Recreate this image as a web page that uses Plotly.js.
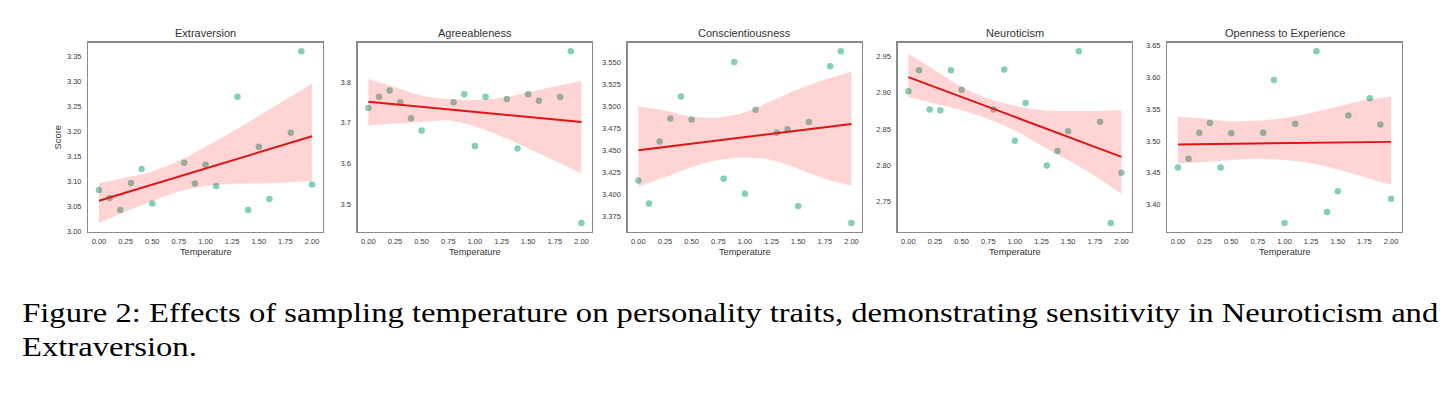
<!DOCTYPE html>
<html>
<head>
<meta charset="utf-8">
<script src="https://cdn.plot.ly/plotly-3.0.1.min.js"></script>
<style>
  html, body { margin: 0; padding: 0; background: #ffffff; }
  #chart { width: 1456px; height: 393px; }
</style>
</head>
<body>
<div id="chart"></div>
<script>
// ---------------- data ----------------
const traitNames = ["Extraversion", "Agreeableness", "Conscientiousness", "Neuroticism", "Openness to Experience"];
const temperature = [0, 0.1, 0.2, 0.3, 0.4, 0.5, 0.8, 0.9, 1.0, 1.1, 1.3, 1.4, 1.5, 1.6, 1.8, 1.9, 2.0];

const extraversion      = [3.083, 3.067, 3.043, 3.097, 3.125, 3.056, 3.137, 3.096, 3.133, 3.091, 3.269, 3.043, 3.169, 3.065, 3.197, 3.360, 3.094];
const agreeableness     = [3.736, 3.764, 3.779, 3.750, 3.711, 3.681, 3.750, 3.770, 3.643, 3.764, 3.758, 3.637, 3.770, 3.754, 3.763, 3.875, 3.455];
const conscientiousness = [3.416, 3.390, 3.460, 3.486, 3.511, 3.485, 3.418, 3.550, 3.401, 3.496, 3.470, 3.474, 3.387, 3.482, 3.545, 3.562, 3.368];
const neuroticism       = [2.902, 2.931, 2.877, 2.876, 2.931, 2.904, 2.877, 2.932, 2.834, 2.886, 2.800, 2.820, 2.847, 2.957, 2.860, 2.721, 2.790];
const openness          = [3.458, 3.472, 3.513, 3.528, 3.458, 3.512, 3.513, 3.596, 3.371, 3.527, 3.641, 3.388, 3.421, 3.540, 3.567, 3.526, 3.409];

// 95% confidence band of the regression line
const bandX = [0, 0.25, 0.5, 0.75, 1.0, 1.25, 1.5, 1.75, 2.0];
const extraversionUpper      = [3.097, 3.108, 3.120, 3.141, 3.169, 3.199, 3.231, 3.263, 3.295];
const extraversionLower      = [3.017, 3.040, 3.061, 3.080, 3.091, 3.095, 3.096, 3.098, 3.101];
const agreeablenessUpper     = [3.807, 3.787, 3.767, 3.758, 3.756, 3.761, 3.775, 3.789, 3.803];
const agreeablenessLower     = [3.693, 3.698, 3.702, 3.706, 3.691, 3.667, 3.637, 3.607, 3.576];
const conscientiousnessUpper = [3.500, 3.495, 3.488, 3.487, 3.493, 3.506, 3.519, 3.530, 3.539];
const conscientiousnessLower = [3.409, 3.420, 3.431, 3.439, 3.442, 3.439, 3.429, 3.418, 3.410];
const neuroticismUpper       = [2.954, 2.931, 2.908, 2.892, 2.882, 2.876, 2.875, 2.875, 2.876];
const neuroticismLower       = [2.894, 2.885, 2.876, 2.864, 2.848, 2.827, 2.807, 2.786, 2.761];
const opennessUpper          = [3.538, 3.535, 3.531, 3.532, 3.536, 3.544, 3.554, 3.564, 3.570];
const opennessLower          = [3.465, 3.467, 3.470, 3.472, 3.470, 3.465, 3.455, 3.443, 3.431];

const xTickVals = [0, 0.25, 0.5, 0.75, 1.0, 1.25, 1.5, 1.75, 2.0];
const xTickText = ["0.00", "0.25", "0.50", "0.75", "1.00", "1.25", "1.50", "1.75", "2.00"];
const yTickStep   = [0.05, 0.1, 0.025, 0.05, 0.05];
const yTickFormat = [".2f", ".1f", ".3f", ".2f", ".2f"];

const captionLine1 = "Figure 2: Effects of sampling temperature on personality traits, demonstrating sensitivity in Neuroticism and";
const captionLine2 = "Extraversion.";
const xTitle = "Temperature";
const yTitle = "Score";

const seriesList = [extraversion, agreeableness, conscientiousness, neuroticism, openness];
const upperList  = [extraversionUpper, agreeablenessUpper, conscientiousnessUpper, neuroticismUpper, opennessUpper];
const lowerList  = [extraversionLower, agreeablenessLower, conscientiousnessLower, neuroticismLower, opennessLower];

// ---------------- layout geometry ----------------
const W = 1456, H = 393;
const panelLeft  = [88.3, 357.7, 627.7, 897.7, 1167.3];
const panelWidth = 234.4;
const plotTop = 42.7, plotBottom = 231.5;
const captionLeft = 20, captionRight = 1437;

const pointColor = "rgba(102,194,165,0.8)";
const bandColor  = "rgba(255,0,0,0.17)";
const lineColor  = "#dd1515";
const textColor  = "#3a3a3a";
const frameColor = "#8a8a8a";
const sans = "Liberation Sans, Arial, sans-serif";
const serif = "Liberation Serif, Times New Roman, serif";

function olsFit(xs, ys) {
  const n = xs.length;
  const mx = xs.reduce((a, b) => a + b, 0) / n;
  const my = ys.reduce((a, b) => a + b, 0) / n;
  let sxy = 0, sxx = 0;
  for (let i = 0; i < n; i++) { sxy += (xs[i] - mx) * (ys[i] - my); sxx += (xs[i] - mx) ** 2; }
  const b = sxy / sxx;
  return { a: my - b * mx, b: b };
}

const traces = [];
const layout = {
  width: W, height: H,
  margin: { l: 0, r: 0, t: 0, b: 0 },
  paper_bgcolor: "#ffffff",
  plot_bgcolor: "#ffffff",
  showlegend: false,
  annotations: [],
  font: { family: sans, color: textColor }
};

const yDomain = [1 - plotBottom / H, 1 - plotTop / H];

for (let k = 0; k < 5; k++) {
  const suffix = k === 0 ? "" : String(k + 1);
  const xa = "x" + suffix, ya = "y" + suffix;
  const ys = seriesList[k];

  // axis range with 5% margins like matplotlib
  const all = ys.concat(upperList[k], lowerList[k]);
  const lo = Math.min(...all), hi = Math.max(...all);
  const pad = 0.05 * (hi - lo);
  const yr = [lo - pad, hi + pad];

  const step = yTickStep[k];
  const yTicks = [];
  for (let v = Math.ceil((yr[0] - 1e-9) / step) * step; v <= yr[1] + 1e-9; v += step) yTicks.push(+v.toFixed(4));

  const x0 = panelLeft[k] / W, x1 = (panelLeft[k] + panelWidth) / W;

  layout["xaxis" + suffix] = {
    domain: [x0, x1], anchor: ya, range: [-0.1, 2.1],
    tickvals: xTickVals, ticktext: xTickText,
    showgrid: false, zeroline: false, ticks: "",
    showline: true, mirror: true, linecolor: frameColor, linewidth: 1.3,
    tickfont: { size: 7.5, color: textColor, family: sans },
    ticklabelstandoff: 2, fixedrange: true
  };
  layout["yaxis" + suffix] = {
    domain: yDomain, anchor: xa, range: yr,
    tickvals: yTicks, tickformat: yTickFormat[k],
    showgrid: false, zeroline: false, ticks: "",
    showline: true, mirror: true, linecolor: frameColor, linewidth: 1.3,
    tickfont: { size: 7.5, color: textColor, family: sans },
    ticklabelstandoff: 4, fixedrange: true
  };

  // scatter points
  traces.push({
    type: "scatter", mode: "markers", x: temperature, y: ys, xaxis: xa, yaxis: ya,
    marker: { color: pointColor, size: 6.5, line: { width: 0 } }, hoverinfo: "skip"
  });
  // confidence band
  traces.push({
    type: "scatter", mode: "lines", x: bandX, y: lowerList[k], xaxis: xa, yaxis: ya,
    line: { width: 0, shape: "spline", smoothing: 0.8 }, hoverinfo: "skip"
  });
  traces.push({
    type: "scatter", mode: "lines", x: bandX, y: upperList[k], xaxis: xa, yaxis: ya,
    line: { width: 0, shape: "spline", smoothing: 0.8 }, fill: "tonexty", fillcolor: bandColor, hoverinfo: "skip"
  });
  // regression line
  const fit = olsFit(temperature, ys);
  const lx = [Math.min(...temperature), Math.max(...temperature)];
  traces.push({
    type: "scatter", mode: "lines", x: lx, y: lx.map(v => fit.a + fit.b * v), xaxis: xa, yaxis: ya,
    line: { color: lineColor, width: 1.9 }, hoverinfo: "skip"
  });

  const cx = (panelLeft[k] + panelWidth / 2) / W;
  layout.annotations.push({
    text: traitNames[k], xref: "paper", yref: "paper", x: cx, y: 1 - 33.3 / H,
    xanchor: "center", yanchor: "middle", showarrow: false,
    font: { size: 11, color: "#333333", family: sans }
  });
  layout.annotations.push({
    text: xTitle, xref: "paper", yref: "paper", x: cx, y: 1 - 252.3 / H,
    xanchor: "center", yanchor: "middle", showarrow: false,
    font: { size: 9.2, color: "#333333", family: sans }
  });
}

layout.annotations.push({
  text: yTitle, xref: "paper", yref: "paper", x: 57.5 / W, y: 1 - 137 / H,
  xanchor: "center", yanchor: "middle", textangle: -90, showarrow: false,
  font: { size: 9.4, color: "#333333", family: sans }
});

layout.annotations.push({
  text: captionLine1, xref: "paper", yref: "paper", x: captionLeft / W, y: 1 - 313 / H,
  xanchor: "left", yanchor: "middle", showarrow: false,
  font: { size: 27, color: "#000000", family: serif }
});
layout.annotations.push({
  text: captionLine2, xref: "paper", yref: "paper", x: captionLeft / W, y: 1 - 347 / H,
  xanchor: "left", yanchor: "middle", showarrow: false,
  font: { size: 27, color: "#000000", family: serif }
});

Plotly.newPlot("chart", traces, layout, { staticPlot: true, displayModeBar: false }).then(function (gd) {
  // The caption in the reference is set slightly wider (justified); stretch it horizontally.
  const texts = Array.from(gd.querySelectorAll("text.annotation-text"));
  const t1 = texts.find(t => t.textContent === captionLine1);
  const t2 = texts.find(t => t.textContent === captionLine2);
  if (!t1 || !t2) return;
  const b1 = t1.getBBox();
  const s = (captionRight - captionLeft) / b1.width;
  [t1, t2].forEach(function (t) {
    const b = t.getBBox();
    const prev = t.getAttribute("transform") || "";
    t.setAttribute("transform", prev + " translate(" + b.x + ",0) scale(" + s + ",1) translate(" + (-b.x) + ",0)");
  });
});
</script>
</body>
</html>
